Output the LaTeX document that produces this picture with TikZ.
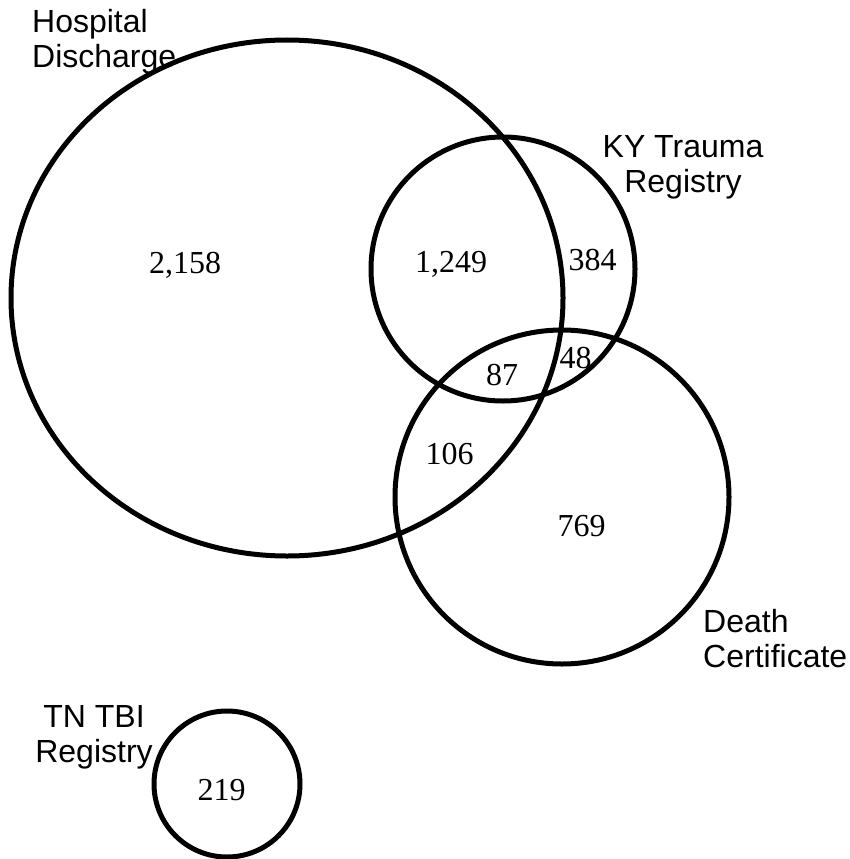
\documentclass[tikz,border=0pt]{standalone}
\usepackage{fontspec}
\setmainfont{Liberation Serif}
\newfontfamily\setfont{Liberation Sans}
\usetikzlibrary{shapes.geometric}
\tikzset{
  venn/.style={draw, line width=5pt, inner sep=0pt},
  setname/.style={font=\setfont\fontsize{32}{35}\selectfont, inner sep=0pt},
  count/.style={font=\fontsize{32}{35}\selectfont, inner sep=0pt, anchor=base}
}
\begin{document}
\begin{tikzpicture}[x=1pt, y=-1pt]
  \useasboundingbox (0,0) rectangle (850,859);
  % sets
  \node[venn, ellipse, minimum width=552pt, minimum height=516pt] (hosp) at (287,298) {};
  \node[venn, circle, minimum size=264pt] (ky) at (503,269) {};
  \node[venn, circle, minimum size=334pt] (death) at (562,497) {};
  \node[venn, circle, minimum size=146pt] (tn) at (227,784) {};
  % set names (base = last line)
  \node[setname, align=left, anchor=base west] (hospname) at (32,67) {Hospital\\Discharge};
  \node[setname, align=center, anchor=base] (kyname) at (683,192) {KY Trauma\\Registry};
  \node[setname, align=left, anchor=base west] (deathname) at (703,667) {Death\\Certificate};
  \node[setname, align=center, anchor=base] (tnname) at (94,762) {TN TBI\\Registry};
  % counts
  \node[count] (nhosp) at (185,273) {2,158};
  \node[count] (nhospky) at (451,272) {1,249};
  \node[count] (nky) at (592.5,270) {384};
  \node[count] (nall) at (502,385) {87};
  \node[count] (nkydeath) at (575.5,368) {48};
  \node[count] (nhospdeath) at (449.5,464) {106};
  \node[count] (ndeath) at (581.5,536) {769};
  \node[count] (ntn) at (221.5,800) {219};
\end{tikzpicture}
\end{document}
